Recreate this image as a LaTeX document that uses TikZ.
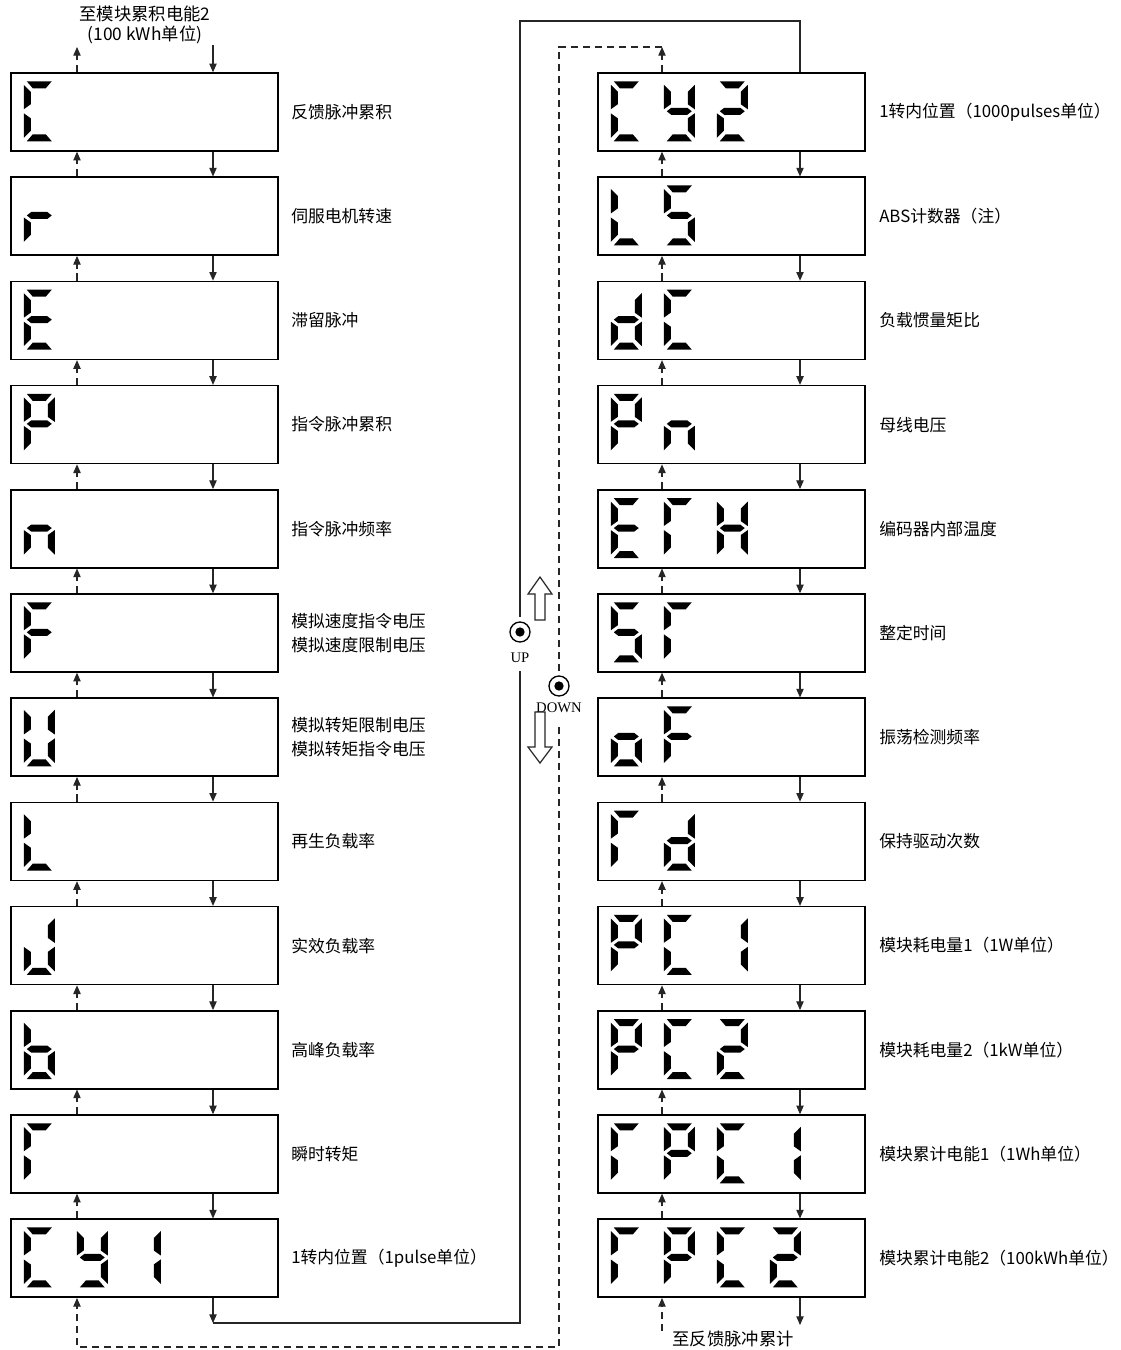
\documentclass[tikz,border=0pt]{standalone}
\usepackage{fontspec}
\setmainfont{Liberation Serif}
\newfontfamily\cjk{Noto Sans CJK SC}
\usetikzlibrary{arrows.meta}
% seven-segment pieces (local px coords, y down)
\newcommand\Sga{\fill (3,0)--(28,0)--(22,7)--(9,7)--cycle;}
\newcommand\Sgb{\fill (31,3.5)--(31,28)--(24,23)--(24,10.5)--cycle;}
\newcommand\Sgc{\fill (31,32)--(31,56.5)--(24,49.5)--(24,37)--cycle;}
\newcommand\Sgd{\fill (3,60)--(28,60)--(22,53)--(9,53)--cycle;}
\newcommand\Sge{\fill (0,32)--(7,37)--(7,49.5)--(0,56.5)--cycle;}
\newcommand\Sgf{\fill (0,3.5)--(7,10.5)--(7,23)--(0,28)--cycle;}
\newcommand\Sgg{\fill (3,30)--(7.5,26.5)--(23.5,26.5)--(28,30)--(23.5,33.5)--(7.5,33.5)--cycle;}
\def\chC{a,f,e,d}
\def\chr{e,g}
\def\chE{a,f,g,e,d}
\def\chP{a,b,f,g,e}
\def\chn{c,e,g}
\def\chF{a,f,g,e}
\def\chU{b,c,d,e,f}
\def\chL{f,e,d}
\def\chJ{b,c,d,e}
\def\chb{c,d,e,f,g}
\def\chG{a,f,e}
\def\chy{f,b,g,c,d}
\def\chone{b,c}
\def\chtwo{a,b,g,e,d}
\def\chS{a,f,g,c,d}
\def\chd{b,c,d,e,g}
\def\chH{f,b,g,e,c}
\def\cho{g,c,d,e}
\newcommand\dg[3]{\begin{scope}[shift={(#1.north west)}]\begin{scope}[shift={({13.5+53*#2},9)}]\foreach \s in #3 {\csname Sg\s\endcsname}\end{scope}\end{scope}}
\begin{document}
\begin{tikzpicture}[x=0.75pt,y=-0.75pt,
  box/.style={draw, line width=1.1pt, inner sep=0pt, minimum width=200.25pt, minimum height=58.5pt},
  lbl/.style={anchor=west, inner sep=0pt, font=\cjk\fontsize{12.6pt}{18pt}\selectfont, align=left},
  con/.style={line width=0.8pt, draw=black!85},
  tip/.style={-{Triangle[length=6.5pt,width=5.5pt]}},
  dsh/.style={con, dash pattern=on 5.5pt off 3.5pt},
  hollow/.style={draw=black!85, line width=0.9pt, fill=white},
  sym/.style={font=\fontsize{11pt}{13pt}\selectfont, inner sep=0pt}]
\useasboundingbox (0,0) rectangle (1121,1350);
\fill[white] (0,0) rectangle (1121,1350);

\foreach \k in {0,...,11}{
  \pgfmathsetmacro\yc{112+104.2*\k}
  \node[box] (L\k) at (144.5,\yc) {};
  \node[box] (R\k) at (731.5,\yc) {};
}

\foreach \k/\t in {0/反馈脉冲累积, 1/伺服电机转速, 2/滞留脉冲, 3/指令脉冲累积, 4/指令脉冲频率,
  5/{模拟速度指令电压\\模拟速度限制电压}, 6/{模拟转矩限制电压\\模拟转矩指令电压}, 7/再生负载率,
  8/实效负载率, 9/高峰负载率, 10/瞬时转矩, 11/1转内位置（1pulse单位）}{
  \node[lbl] (tL\k) at (291,{112+104.2*\k}) {\t};
}
\foreach \k/\t in {0/1转内位置（1000pulses单位）, 1/ABS计数器（注）, 2/负载惯量矩比, 3/母线电压,
  4/编码器内部温度, 5/整定时间, 6/振荡检测频率, 7/保持驱动次数, 8/模块耗电量1（1W单位）,
  9/模块耗电量2（1kW单位）, 10/模块累计电能1（1Wh单位）, 11/模块累计电能2（100kWh单位）}{
  \node[lbl] (tR\k) at (879,{112+104.2*\k}) {\t};
}

% seven-segment contents
\dg{L0}{0}{\chC}
\dg{L1}{0}{\chr}
\dg{L2}{0}{\chE}
\dg{L3}{0}{\chP}
\dg{L4}{0}{\chn}
\dg{L5}{0}{\chF}
\dg{L6}{0}{\chU}
\dg{L7}{0}{\chL}
\dg{L8}{0}{\chJ}
\dg{L9}{0}{\chb}
\dg{L10}{0}{\chG}
\dg{L11}{0}{\chC}\dg{L11}{1}{\chy}\dg{L11}{2}{\chone}
\dg{R0}{0}{\chC}\dg{R0}{1}{\chy}\dg{R0}{2}{\chtwo}
\dg{R1}{0}{\chL}\dg{R1}{1}{\chS}
\dg{R2}{0}{\chd}\dg{R2}{1}{\chC}
\dg{R3}{0}{\chP}\dg{R3}{1}{\chn}
\dg{R4}{0}{\chE}\dg{R4}{1}{\chG}\dg{R4}{2}{\chH}
\dg{R5}{0}{\chS}\dg{R5}{1}{\chG}
\dg{R6}{0}{\cho}\dg{R6}{1}{\chF}
\dg{R7}{0}{\chG}\dg{R7}{1}{\chd}
\dg{R8}{0}{\chP}\dg{R8}{1}{\chC}\dg{R8}{2}{\chone}
\dg{R9}{0}{\chP}\dg{R9}{1}{\chC}\dg{R9}{2}{\chtwo}
\dg{R10}{0}{\chG}\dg{R10}{1}{\chP}\dg{R10}{2}{\chC}\dg{R10}{3}{\chone}
\dg{R11}{0}{\chG}\dg{R11}{1}{\chP}\dg{R11}{2}{\chC}\dg{R11}{3}{\chtwo}

% column x positions
\coordinate (lu) at (77,0);
\coordinate (ld) at (213,0);
\coordinate (ru) at (662,0);
\coordinate (rd) at (800,0);

\foreach \k [count=\n from 1] in {0,...,10}{
  \draw[con,tip] (L\k.south -| ld) -- (L\n.north -| ld);
  \draw[dsh,tip] (L\n.north -| lu) -- (L\k.south -| lu);
  \draw[con,tip] (R\k.south -| rd) -- (R\n.north -| rd);
  \draw[dsh,tip] (R\n.north -| ru) -- (R\k.south -| ru);
}

% top left
\coordinate (tA) at (77,47);
\coordinate (tB) at (213,45);
\draw[dsh,tip] (L0.north -| lu) -- (tA);
\draw[con,tip] (tB) -- (L0.north -| ld);
\node[font=\cjk\fontsize{13pt}{15pt}\selectfont, align=center, inner sep=0pt] (topt) at (145,25) {至模块累积电能2\\(100 kWh单位)};

% solid loop from left bottom to right top
\coordinate (c1) at (213,1323);
\coordinate (c2) at (520,1323);
\coordinate (u2) at (520,671);
\coordinate (u1) at (520,617);
\coordinate (c3) at (520,21);
\coordinate (c4) at (800,21);
\draw[con,tip] (L11.south -| ld) -- (c1);
\draw[con] (c1) -- (c2) -- (u2);
\draw[con] (u1) -- (c3) -- (c4) -- (R0.north -| rd);

% dashed loop from right top to left bottom
\coordinate (d1) at (662,47);
\coordinate (d2) at (559,47);
\coordinate (w1) at (559,676);
\coordinate (w2) at (559,727);
\coordinate (d3) at (559,1347);
\coordinate (d4) at (77,1347);
\draw[dsh,tip] (R0.north -| ru) -- (d1);
\draw[dsh] (d1) -- (d2) -- (w1);
\draw[dsh,tip] (w2) -- (d3) -- (d4) -- (L11.south -| lu);

% bottom right
\coordinate (e1) at (662,1331);
\coordinate (e2) at (800,1325);
\draw[dsh,tip] (e1) -- (R11.south -| ru);
\draw[con,tip] (R11.south -| rd) -- (e2);
\node[font=\cjk\fontsize{13pt}{15pt}\selectfont, inner sep=0pt] (bott) at (733,1339) {至反馈脉冲累计};

% UP / DOWN symbols
\node[draw, circle, line width=1pt, minimum size=15pt, inner sep=0pt] (upc) at (520,632) {};
\node[circle, fill, minimum size=7pt, inner sep=0pt] (upd) at (upc) {};
\node[sym] (upt) at (520,658) {UP};
\node[draw, circle, line width=1pt, minimum size=15pt, inner sep=0pt] (dnc) at (559,686) {};
\node[circle, fill, minimum size=7pt, inner sep=0pt] (dnd) at (dnc) {};
\node[sym] (dnt) at (559,708) {DOWN};
\draw[hollow] (540,577) -- (552,594) -- (545,594) -- (545,620) -- (535,620) -- (535,594) -- (528,594) -- cycle;
\draw[hollow] (535,712) -- (545,712) -- (545,747) -- (552,747) -- (540,763) -- (528,747) -- (535,747) -- cycle;
\end{tikzpicture}
\end{document}
